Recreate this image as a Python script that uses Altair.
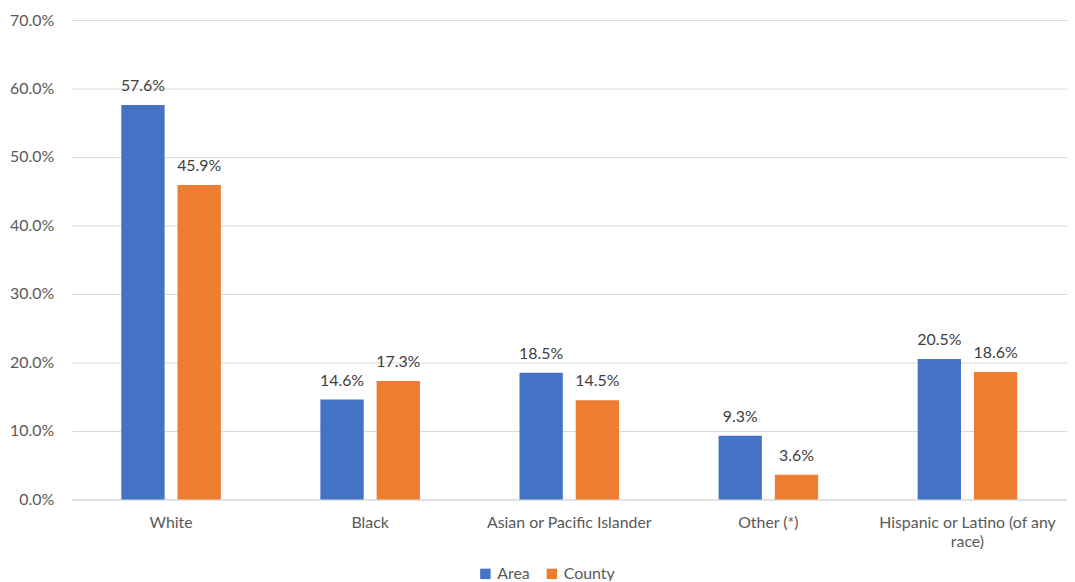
import altair as alt
import pandas as pd

categories = ["White", "Black", "Asian or Pacific Islander", "Other (*)", "Hispanic or Latino (of any race)"]
area = [57.6, 14.6, 18.5, 9.3, 20.5]
county = [45.9, 17.3, 14.5, 3.6, 18.6]
series = ["Area", "County"]
colors = ["#4472C4", "#ED7D31"]

rows = []
for c, a, k in zip(categories, area, county):
    rows.append({"category": c, "series": "Area", "value": a / 100})
    rows.append({"category": c, "series": "County", "value": k / 100})
df = pd.DataFrame(rows)

FONT = "Lato"
GRAY = "#595959"

base = alt.Chart(df).encode(
    x=alt.X("category:N", sort=categories,
            scale=alt.Scale(paddingInner=0.5, paddingOuter=0.25),
            axis=alt.Axis(title=None, labelAngle=0, ticks=False, domain=True,
                          domainColor="#D9D9D9", labelPadding=15,
                          labelFont=FONT, labelFontSize=16, labelColor=GRAY,
                          labelLimit=300, labelLineHeight=19,
                          labelExpr="datum.label == 'Hispanic or Latino (of any race)' ? ['Hispanic or Latino (of any', 'race)'] : datum.label")),
    xOffset=alt.XOffset("series:N", sort=series,
                        scale=alt.Scale(paddingInner=0.23, paddingOuter=0)),
    y=alt.Y("value:Q", scale=alt.Scale(domain=[0, 0.7], nice=False),
            axis=alt.Axis(title=None, format=".1%", values=[0, .1, .2, .3, .4, .5, .6, .7],
                          ticks=False, domain=False, gridColor="#D9D9D9",
                          labelPadding=18, labelFont=FONT, labelFontSize=16,
                          labelColor=GRAY)),
)

bars = base.mark_bar().encode(
    color=alt.Color("series:N", sort=series,
                    scale=alt.Scale(domain=series, range=colors),
                    legend=alt.Legend(title=None, orient="none", direction="horizontal",
                                      legendX=409, legendY=550, symbolType="square",
                                      symbolSize=110, symbolStrokeWidth=0,
                                      labelFont=FONT, labelFontSize=16, labelColor=GRAY,
                                      columnPadding=14, labelOffset=4))
)

labels = base.mark_text(dy=-19, font=FONT, fontSize=16, color="#404040").encode(
    text=alt.Text("value:Q", format=".1%")
)

chart = (bars + labels).properties(
    width=1003, height=483,
    autosize=alt.AutoSizeParams(type="none"),
    padding={"left": 64, "top": 10, "right": 0, "bottom": 80},
).configure_view(stroke=None)

chart.save("out.html", embed_options={"renderer": "svg", "actions": False})
